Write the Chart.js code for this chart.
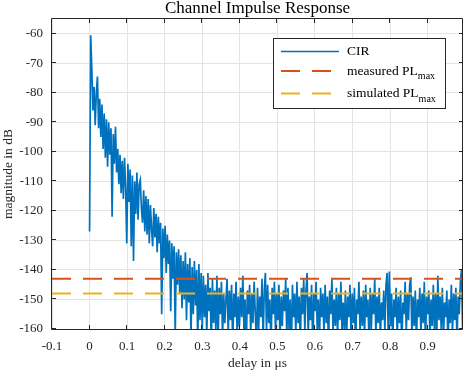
<!DOCTYPE html>
<html>
<head>
<meta charset="utf-8">
<title>Channel Impulse Response</title>
<script src="https://cdn.jsdelivr.net/npm/chart.js@4.4.1/dist/chart.umd.min.js"></script>
<style>
    html, body { margin: 0; padding: 0; background: #fff; }
    canvas { display: block; }
</style>
</head>
<body>
<canvas id="cirChart" width="467" height="372"></canvas>
<script>
// CIR samples (dB), one every cirStep microseconds from cirStart
const cirStart = 0;
const cirStep = 0.003;
const cirMagnitude = [
    -127, -60.5, -72, -86, -78, -91, -80, -74.5, -92, -82,
    -95, -84, -99, -87, -102, -89, -105, -90, -101, -92,
    -122, -94, -104, -91.5, -107, -99, -111, -101, -114, -103,
    -116, -102, -112, -131, -104, -117, -106, -132, -108, -137,
    -110, -121, -107, -123, -111, -109.5, -119, -124, -113, -127,
    -115, -128, -116, -131, -118, -126, -132, -119, -129, -121,
    -134, -122, -131, -124, -155, -126, -136, -125, -141, -128,
    -138, -130, -154, -131, -143, -132, -162, -134, -145, -133,
    -148, -135, -153, -137, -150, -134, -157, -138, -151, -136,
    -163, -139, -155, -137, -152, -140, -165, -138, -157, -141,
    -160, -142, -156, -145, -163, -141, -154, -146, -167, -143,
    -158, -147, -161, -142, -165, -146, -155, -144, -163, -148,
    -158, -150, -143, -162, -147, -157, -145, -166, -148, -156,
    -144, -163, -149, -159, -146, -156, -142, -161, -150, -168,
    -147, -155, -145, -162, -148, -158, -144, -154, -165, -146,
    -160, -149, -156, -143, -164, -147, -141, -161, -145, -158,
    -150, -167, -146, -155, -144, -162, -148, -157, -145, -165,
    -149, -159, -147, -154, -143, -163, -146, -160, -150, -169,
    -145, -156, -148, -162, -144, -158, -149, -166, -146, -155,
    -143, -161, -147, -141, -163, -149, -157, -145, -167, -148,
    -154, -144, -160, -150, -164, -146, -156, -148, -162, -145,
    -158, -149, -166, -147, -155, -143, -161, -150, -159, -146,
    -163, -148, -157, -144, -162, -151, -160, -147, -165, -149,
    -156, -145, -162, -148, -158, -146, -168, -150, -155, -144,
    -161, -149, -159, -147, -163, -145, -156, -150, -166, -146,
    -160, -148, -155, -143, -162, -149, -158, -146, -164, -151,
    -157, -147, -161, -145, -141, -162, -140.5, -159, -148, -165,
    -150, -156, -146, -163, -149, -158, -147, -167, -151, -155,
    -144, -161, -148, -157, -145, -142.5, -163, -149, -159, -147,
    -165, -150, -156, -146, -162, -148, -158, -144, -166, -149,
    -155, -147, -163, -150, -159, -145, -161, -148, -164, -142,
    -157, -149, -160, -146, -163, -151, -156, -147, -167, -150,
    -158, -145, -162, -148, -157, -146, -165, -149, -155, -144,
    -140, -161, -147, -159
];
const measuredPL = -143;
const simulatedPL = -148;

const xRange = [-0.1, 0.994];
const yRange = [-160, -55];
const xTicks = [-0.1, 0, 0.1, 0.2, 0.3, 0.4, 0.5, 0.6, 0.7, 0.8, 0.9];
const yTicks = [-160, -150, -140, -130, -120, -110, -100, -90, -80, -70, -60];

const legendItems = [
    { label: 'CIR', sub: '', color: '#0072BD', dash: [] },
    { label: 'measured PL', sub: 'max', color: '#D95319', dash: [19, 12] },
    { label: 'simulated PL', sub: 'max', color: '#EDB120', dash: [19, 12] }
];

const serif = '"Liberation Serif", "DejaVu Serif", serif';
const axisColor = '#262626';

const cirPoints = cirMagnitude.map((v, i) => ({ x: cirStart + i * cirStep, y: v }));

function flatLine(level) {
    return [{ x: xRange[0], y: level }, { x: xRange[1], y: level }];
}

// title, box, inward ticks and the legend, MATLAB style
const matlabFrame = {
    id: 'matlabFrame',
    afterDatasetsDraw(chart) {
        const { ctx, chartArea: a, scales } = chart;
        ctx.save();

        ctx.strokeStyle = axisColor;
        ctx.lineWidth = 1;
        ctx.beginPath();
        ctx.rect(a.left - 0.5, a.top - 0.5, a.right - a.left, a.bottom - a.top + 1);
        ctx.stroke();

        ctx.beginPath();
        xTicks.forEach(v => {
            const px = Math.round(scales.x.getPixelForValue(v)) - 0.5;
            ctx.moveTo(px, a.bottom); ctx.lineTo(px, a.bottom - 4);
            ctx.moveTo(px, a.top); ctx.lineTo(px, a.top + 4);
        });
        yTicks.forEach(v => {
            const py = Math.round(scales.y.getPixelForValue(v)) - 0.5;
            ctx.moveTo(a.left, py); ctx.lineTo(a.left + 4, py);
            ctx.moveTo(a.right, py); ctx.lineTo(a.right - 4, py);
        });
        ctx.stroke();

        // title
        ctx.fillStyle = '#000';
        ctx.font = '17px ' + serif;
        ctx.textAlign = 'center';
        ctx.textBaseline = 'middle';
        ctx.fillText('Channel Impulse Response', (a.left + a.right) / 2, 9);

        // legend
        const box = { x: 273.5, y: 38.5, w: 172, h: 70 };
        ctx.fillStyle = '#fff';
        ctx.fillRect(box.x, box.y, box.w, box.h);
        ctx.strokeStyle = axisColor;
        ctx.strokeRect(box.x, box.y, box.w, box.h);

        const rows = [51.5, 71, 93.5];
        legendItems.forEach((item, i) => {
            const y = rows[i];
            ctx.strokeStyle = item.color;
            ctx.lineWidth = item.dash.length ? 2 : 1.4;
            ctx.setLineDash(item.dash);
            ctx.beginPath();
            ctx.moveTo(281, y);
            ctx.lineTo(339, y);
            ctx.stroke();
            ctx.setLineDash([]);

            ctx.fillStyle = '#000';
            ctx.textAlign = 'left';
            ctx.textBaseline = 'middle';
            ctx.font = '13.5px ' + serif;
            ctx.fillText(item.label, 347, y);
            if (item.sub) {
                const w = ctx.measureText(item.label).width;
                ctx.font = '10px ' + serif;
                ctx.fillText(item.sub, 347 + w, y + 5.5);
            }
        });

        ctx.restore();
    }
};

const ctx = document.getElementById('cirChart').getContext('2d');
const chart = new Chart(ctx, {
    type: 'line',
    data: {
        datasets: [
            {
                label: 'CIR',
                data: cirPoints,
                borderColor: '#0072BD',
                borderWidth: 1.7,
                pointRadius: 0,
                tension: 0,
                order: 3
            },
            {
                label: 'measured PL_max',
                data: flatLine(measuredPL),
                borderColor: '#D95319',
                borderWidth: 2,
                borderDash: [19, 12],
                pointRadius: 0,
                order: 2
            },
            {
                label: 'simulated PL_max',
                data: flatLine(simulatedPL),
                borderColor: '#EDB120',
                borderWidth: 2,
                borderDash: [19, 12],
                pointRadius: 0,
                order: 1
            }
        ]
    },
    options: {
        responsive: false,
        devicePixelRatio: 1,
        animation: false,
        layout: { padding: { top: 19, right: 4, left: 0, bottom: 0 } },
        plugins: {
            legend: { display: false },
            title: { display: false },
            tooltip: { enabled: false }
        },
        scales: {
            x: {
                type: 'linear',
                min: xRange[0],
                max: xRange[1],
                afterBuildTicks: s => { s.ticks = xTicks.map(v => ({ value: v })); },
                afterFit: s => { s.height = 43; },
                ticks: {
                    autoSkip: false,
                    maxRotation: 0,
                    padding: 10,
                    color: axisColor,
                    font: { family: serif, size: 13 },
                    callback: v => String(Math.round(v * 10) / 10)
                },
                grid: { color: '#e4e4e4', drawTicks: false },
                border: { display: false },
                title: {
                    display: true,
                    text: 'delay in \u03bcs',
                    color: axisColor,
                    font: { family: serif, size: 13.5 },
                    padding: { top: 0, bottom: 0 }
                }
            },
            y: {
                type: 'linear',
                min: yRange[0],
                max: yRange[1],
                afterBuildTicks: s => { s.ticks = yTicks.map(v => ({ value: v })); },
                afterFit: s => { s.width = 52; },
                ticks: {
                    padding: 9,
                    color: axisColor,
                    font: { family: serif, size: 13 }
                },
                grid: { color: '#e4e4e4', drawTicks: false },
                border: { display: false },
                title: {
                    display: true,
                    text: 'magnitude in dB',
                    color: axisColor,
                    font: { family: serif, size: 13.5 },
                    padding: { top: 0, bottom: 0 }
                }
            }
        }
    },
    plugins: [matlabFrame]
});
</script>
</body>
</html>
